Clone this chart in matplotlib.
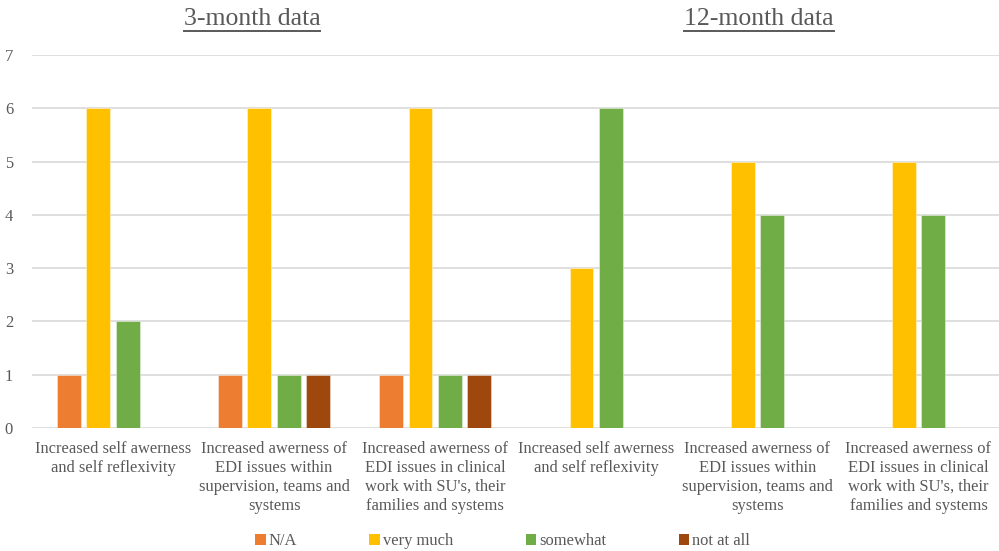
import numpy as np
import matplotlib.pyplot as plt
from matplotlib.lines import Line2D
from matplotlib.patches import Patch

plt.rcParams['font.family'] = ['Liberation Serif', 'DejaVu Serif']

categories = [
    "Increased self awerness\nand self reflexivity",
    "Increased awerness of\nEDI issues within\nsupervision, teams and\nsystems",
    "Increased awerness of\nEDI issues in clinical\nwork with SU's, their\nfamilies and systems",
    "Increased self awerness\nand self reflexivity",
    "Increased awerness of\nEDI issues within\nsupervision, teams and\nsystems",
    "Increased awerness of\nEDI issues in clinical\nwork with SU's, their\nfamilies and systems",
]
series_names = ["N/A", "very much", "somewhat", "not at all"]
na_vals = [1, 1, 1, 0, 0, 0]
very_much = [6, 6, 6, 3, 5, 5]
somewhat = [2, 1, 1, 6, 4, 4]
not_at_all = [0, 1, 1, 0, 0, 0]
colors = ["#ED7D31", "#FFC000", "#70AD47", "#9E480E"]
titles = ["3-month data", "12-month data"]

text_col = "#595959"
grid_col = "#D9D9D9"

fig = plt.figure(figsize=(9.99, 5.51), dpi=100)
ax = fig.add_axes([0.0325, 0.2232, 0.9675, 0.677])

x = np.arange(len(categories))
width = 0.148
step = 0.183
offsets = (np.arange(4) - 1.5) * step
for vals, off, col in zip([na_vals, very_much, somewhat, not_at_all], offsets, colors):
    vals = np.array(vals)
    keep = vals > 0
    ax.bar(x[keep] + off, vals[keep], width=width, color=col,
           edgecolor=(1, 1, 1, 0.45), linewidth=0.6, zorder=3)

ax.set_xlim(-0.5, len(categories) - 0.5)
ax.set_ylim(0, 7)
ax.set_yticks(range(8))
ax.yaxis.grid(True, color=grid_col, linewidth=1.2, zorder=0)
ax.set_axisbelow(True)
for s in ax.spines.values():
    s.set_visible(False)
ax.tick_params(axis='both', length=0, colors=text_col, labelsize=11.9)
ax.tick_params(axis='y', pad=14)
ax.tick_params(axis='x', pad=9)
ax.set_xticks(x)
ax.set_xticklabels(categories, linespacing=1.26)

# section headings, underlined
fig.canvas.draw()
renderer = fig.canvas.get_renderer()
for t, xc in zip(titles, [252 / 999, 759 / 999]):
    txt = fig.text(xc, 1 - 19 / 551, t, ha='center', va='center',
                   fontsize=18.5, color=text_col)
    bb = txt.get_window_extent(renderer).transformed(fig.transFigure.inverted())
    yline = 1 - 31 / 551
    fig.add_artist(Line2D([bb.x0, bb.x1], [yline, yline],
                          transform=fig.transFigure, color=text_col, linewidth=1.4))

handles = [Patch(facecolor=c, edgecolor='none') for c in colors]
fig.legend(handles, series_names, loc='center', bbox_to_anchor=(0.503, 1 - 541 / 551),
           ncol=4, frameon=False, fontsize=11.9, labelcolor=text_col,
           handlelength=0.65, handleheight=0.65, handletextpad=0.15,
           columnspacing=4.4)

fig.savefig("out.png", dpi=100)
